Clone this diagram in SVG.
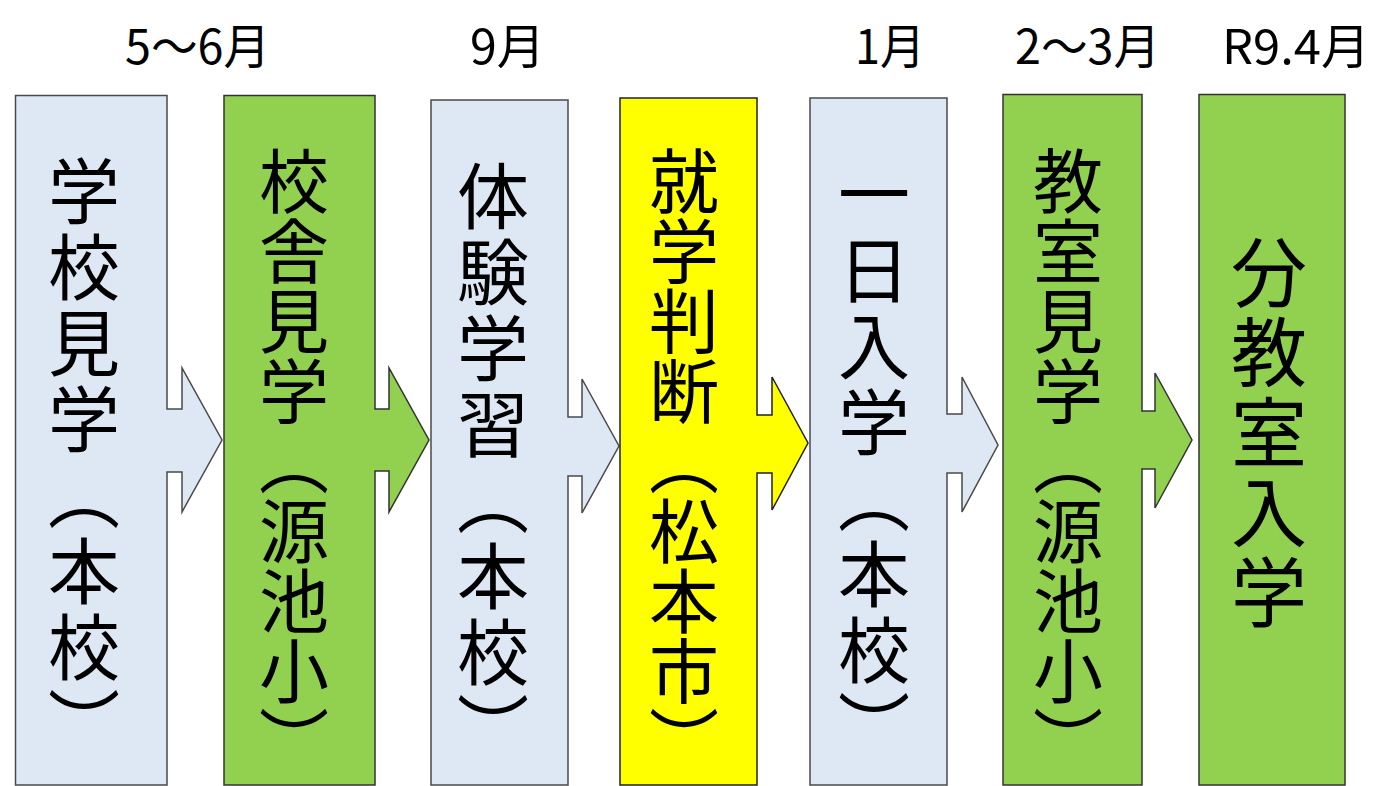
<svg xmlns="http://www.w3.org/2000/svg" width="1378" height="786" viewBox="0 0 1378 786">
<style>
.blue{fill:#DEE8F4;stroke:#4a4a4a;stroke-width:1.5}
.green{fill:#92D050;stroke:#333;stroke-width:1.5}
.yellow{fill:#FFFF00;stroke:#222;stroke-width:1.5}
.v{font-family:"Noto Sans CJK JP","Noto Sans",sans-serif;writing-mode:vertical-rl;fill:#000}
.v8{font-size:72px;letter-spacing:4px}
.v9{font-size:70px;letter-spacing:0px}
.v5{font-size:76px;letter-spacing:4px}
.t{font-family:"Noto Sans CJK JP","Noto Sans",sans-serif;font-size:48px;fill:#000}
</style>
<rect width="1378" height="786" fill="#fff"/>
<g id="labels">
<text class="t" x="125" y="64" textLength="145" lengthAdjust="spacingAndGlyphs">5～6月</text>
<text class="t" x="470" y="64" textLength="75" lengthAdjust="spacingAndGlyphs">9月</text>
<text class="t" x="855" y="64" textLength="70" lengthAdjust="spacingAndGlyphs">1月</text>
<text class="t" x="1015" y="64" textLength="145" lengthAdjust="spacingAndGlyphs">2～3月</text>
<text class="t" x="1222" y="64" textLength="148" lengthAdjust="spacingAndGlyphs">R9.4月</text>
</g>
<g id="n1">
<path class="blue" d="M15.5,95.5 H167 V409 H182 V368 L222,440 L182,512 V472 H167 V785 H15.5 Z"/>
<text class="v v8" x="84" y="155">学校見学（本校）</text>
</g>
<g id="n2">
<path class="green" d="M224,95.5 H375 V409 H389 V368 L429,440 L389,512 V471 H375 V785 H224 Z"/>
<text class="v v9" x="294" y="146">校舎見学（源池小）</text>
</g>
<g id="n3">
<path class="blue" d="M431,100 H568 V417 H582 V379 L619,446 L582,513 V476 H568 V785 H431 Z"/>
<text class="v v8" x="493" y="160">体験学習（本校）</text>
</g>
<g id="n4">
<path class="yellow" d="M620,98 H757 V415 H772 V377 L808,443 L772,510 V473 H757 V785 H620 Z"/>
<text class="v v9" x="684" y="146">就学判断（松本市）</text>
</g>
<g id="n5">
<path class="blue" d="M810,98 H947 V414 H962 V377 L998,445 L962,512 V473 H947 V785 H810 Z"/>
<text class="v v8" x="874" y="158">一日入学（本校）</text>
</g>
<g id="n6">
<path class="green" d="M1003,94.5 H1142 V411 H1155 V373 L1192,440 L1155,508 V469 H1142 V785 H1003 Z"/>
<text class="v v9" x="1068" y="146">教室見学（源池小）</text>
</g>
<g id="n7">
<rect class="green" x="1199" y="94.5" width="146" height="690.5"/>
<text class="v v5" x="1269" y="234">分教室入学</text>
</g>
<g id="connectors"></g>
</svg>
